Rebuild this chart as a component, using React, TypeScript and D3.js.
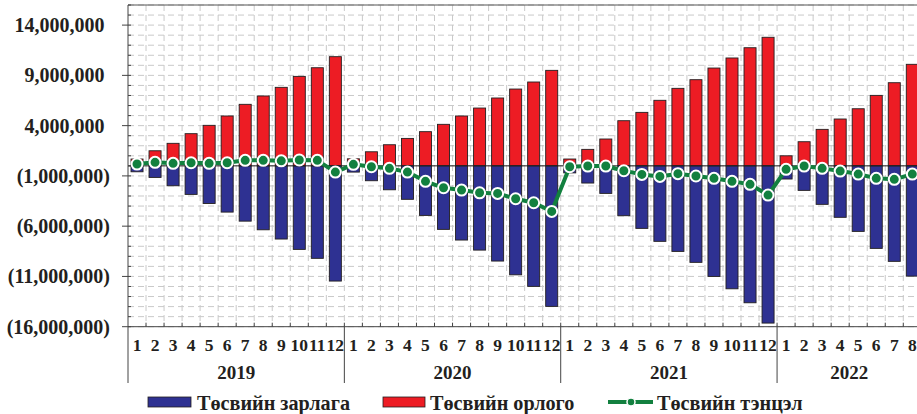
import React from "react";
import * as d3 from "d3";

const years = ["2019", "2020", "2021", "2022"];
const monthsPerYear = [12, 12, 12, 8];

const revenue = [
  680000, 1500000, 2240000, 3200000, 4030000, 4960000, 6120000, 6950000, 7810000, 8900000, 9760000, 10860000,
  700000, 1400000, 2100000, 2730000, 3400000, 4130000, 4960000, 5750000, 6750000, 7640000, 8340000, 9500000,
  680000, 1640000, 2670000, 4490000, 5320000, 6520000, 7710000, 8570000, 9730000, 10730000, 11750000, 12790000,
  1000000, 2400000, 3630000, 4660000, 5680000, 7010000, 8270000, 10100000,
];

const expense = [
  -590000, -1150000, -1980000, -2840000, -3740000, -4600000, -5500000, -6360000, -7280000, -8310000, -9200000, -11460000,
  -620000, -1480000, -2380000, -3330000, -4930000, -6320000, -7380000, -8380000, -9470000, -10840000, -11990000, -13980000,
  -700000, -1710000, -2740000, -4960000, -6220000, -7510000, -8510000, -9600000, -11000000, -12230000, -13620000, -15640000,
  -1310000, -2440000, -3830000, -5120000, -6520000, -8210000, -9500000, -10970000,
];

const balance = [
  180000, 350000, 250000, 310000, 250000, 310000, 550000, 550000, 500000, 580000, 550000, -620000,
  150000, -90000, -250000, -620000, -1540000, -2180000, -2410000, -2680000, -2740000, -3270000, -3670000, -4530000,
  -90000, -20000, -20000, -490000, -850000, -1050000, -780000, -1010000, -1240000, -1540000, -1840000, -2910000,
  -350000, -20000, -250000, -520000, -820000, -1240000, -1340000, -820000,
];

const yTicks = [14000000, 9000000, 4000000, -1000000, -6000000, -11000000, -16000000];

const legendLabels = ["Төсвийн зарлага", "Төсвийн орлого", "Төсвийн тэнцэл"];

const RED = "#ed1c24";
const BLUE = "#2e3192";
const GREEN = "#12803f";
const INK = "#231f20";
const FONT = "'Liberation Serif', 'Times New Roman', serif";

export default function App() {
  const W = 917;
  const H = 414;
  const left = 128;
  const step = 18.03;
  const n = revenue.length;
  const right = left + n * step;
  const top = 5;
  const bottom = 326.7;

  const labels: { year: string; month: number; key: string }[] = [];
  years.forEach((y, yi) => {
    for (let m = 1; m <= monthsPerYear[yi]; m++) labels.push({ year: y, month: m, key: `${y}-${m}` });
  });

  const x = d3
    .scaleBand<string>()
    .domain(labels.map((d) => d.key))
    .range([left, right])
    .paddingInner(0.333)
    .paddingOuter(0.1667);
  const y = d3.scaleLinear().domain([-16000000, 16000000]).range([bottom, top]);

  const fmt = d3.format(",");
  const gridY = d3.range(-16000000, 16000001, 1000000);
  const boundaries = d3.range(1, n + 1).map((k) => left + k * x.step());

  const line = d3
    .line<number>()
    .x((_, i) => (x(labels[i].key) as number) + x.bandwidth() / 2)
    .y((d) => y(d));

  const yearStarts: number[] = [];
  let acc = 0;
  monthsPerYear.forEach((c) => {
    yearStarts.push(acc);
    acc += c;
  });

  return (
    <div style={{ position: "fixed", left: 0, top: 0 }}>
      <svg width={W} height={H} style={{ display: "block", background: "#fff" }} fontFamily={FONT}>
        {/* grid */}
        <g stroke="#c9c9c9" strokeWidth={1} strokeDasharray="6,4">
          {gridY.map((v) => (
            <line key={"h" + v} x1={left} x2={right} y1={y(v)} y2={y(v)} />
          ))}
          {boundaries.map((bx, i) => (
            <line key={"v" + i} x1={bx} x2={bx} y1={top} y2={bottom} />
          ))}
        </g>
        {/* bars */}
        <g stroke={INK} strokeWidth={0.9}>
          {revenue.map((v, i) => (
            <rect
              key={"r" + i}
              x={x(labels[i].key)}
              y={y(v)}
              width={x.bandwidth()}
              height={y(0) - y(v)}
              fill={RED}
            />
          ))}
          {expense.map((v, i) => (
            <rect
              key={"e" + i}
              x={x(labels[i].key)}
              y={y(0)}
              width={x.bandwidth()}
              height={y(v) - y(0)}
              fill={BLUE}
            />
          ))}
        </g>
        {/* zero line */}
        <line x1={left} x2={right} y1={y(0)} y2={y(0)} stroke={INK} strokeWidth={1} />
        {/* balance line */}
        <path d={line(balance) || ""} fill="none" stroke={GREEN} strokeWidth={4} strokeLinejoin="round" />
        {balance.map((v, i) => (
          <circle
            key={"b" + i}
            cx={(x(labels[i].key) as number) + x.bandwidth() / 2}
            cy={y(v)}
            r={5.5}
            fill={GREEN}
            stroke="#fff"
            strokeWidth={2}
          />
        ))}
        {/* plot border */}
        <line x1={left} x2={right} y1={top} y2={top} stroke="#555" strokeWidth={1} />
        <line x1={left} x2={left} y1={top} y2={383} stroke="#444" strokeWidth={1} />
        <line x1={left} x2={right} y1={bottom} y2={bottom} stroke="#444" strokeWidth={1} />
        {/* ticks */}
        <g stroke="#444" strokeWidth={1}>
          {gridY.map((v) => (
            <line key={"mt" + v} x1={left} x2={left + 3} y1={y(v)} y2={y(v)} />
          ))}
          {yTicks.map((v) => (
            <line key={"t" + v} x1={left - 6} x2={left} y1={y(v)} y2={y(v)} />
          ))}
          {boundaries.map((bx, i) => (
            <line key={"xt" + i} x1={bx} x2={bx} y1={bottom - 4} y2={bottom} />
          ))}
        </g>
        {/* y labels */}
        <g fontSize={20} fontWeight="bold" fill={INK} textAnchor="end">
          {yTicks.map((v) => (
            <text key={"yl" + v} x={v < 0 ? 110 : 104.5} y={y(v)} dy="0.35em">
              {v < 0 ? `(${fmt(-v)})` : fmt(v)}
            </text>
          ))}
        </g>
        {/* month labels */}
        <g fontSize={17.5} fontWeight="bold" fill={INK} textAnchor="middle">
          {labels.map((d) => (
            <text key={"ml" + d.key} x={(x(d.key) as number) + x.bandwidth() / 2} y={351}>
              {d.month}
            </text>
          ))}
        </g>
        {/* year separators and labels */}
        {years.map((yr, yi) => {
          const x0 = left + yearStarts[yi] * x.step();
          const x1 = left + (yearStarts[yi] + monthsPerYear[yi]) * x.step();
          return (
            <g key={"yr" + yr}>
              {yi > 0 && <line x1={x0} x2={x0} y1={bottom} y2={383} stroke="#444" strokeWidth={1} />}
              <text
                x={(x0 + x1) / 2}
                y={379}
                fontSize={19}
                fontWeight="bold"
                fill={INK}
                textAnchor="middle"
              >
                {yr}
              </text>
            </g>
          );
        })}
        {/* legend */}
        <g fontSize={20.2} fontWeight="bold" fill={INK}>
          <rect x={148} y={397} width={43} height={10} fill={BLUE} stroke={INK} strokeWidth={0.8} />
          <text x={197} y={410}>{legendLabels[0]}</text>
          <rect x={383} y={397} width={42} height={10} fill={RED} stroke={INK} strokeWidth={0.8} />
          <text x={430} y={410}>{legendLabels[1]}</text>
          <line x1={608} x2={653} y1={402} y2={402} stroke={GREEN} strokeWidth={4} />
          <circle cx={631} cy={402} r={4} fill={GREEN} stroke="#fff" strokeWidth={1.5} />
          <text x={657} y={410}>{legendLabels[2]}</text>
        </g>
      </svg>
    </div>
  );
}
